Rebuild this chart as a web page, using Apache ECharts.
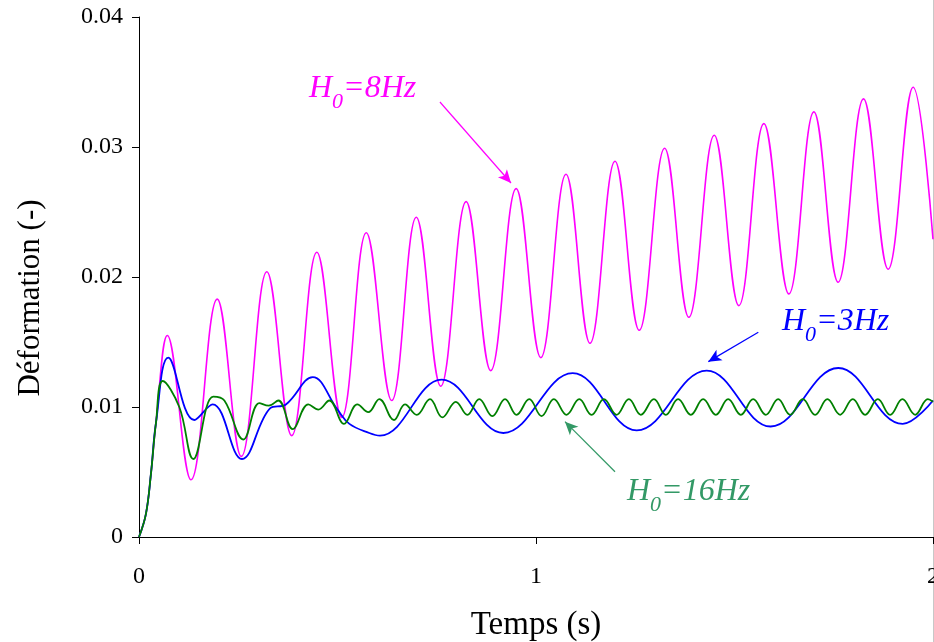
<!DOCTYPE html>
<html>
<head>
<meta charset="utf-8">
<script src="https://cdn.jsdelivr.net/npm/echarts@6/dist/echarts.min.js"></script>
<style>
html,body{margin:0;padding:0;background:#fff;}
#chart{width:934px;height:642px;}
</style>
</head>
<body>
<div id="chart"></div>
<script>
// ---- data ----
var xTicks = ['0', '1', '2'];
var yTicks = ['0', '0.01', '0.02', '0.03', '0.04'];

// H0 = 8 Hz (magenta)
var t8 = [0, 0.0176, 0.0302, 0.0428, 0.0713, 0.131, 0.197, 0.2577, 0.322, 0.3846, 0.448, 0.5106, 0.5725, 0.6365, 0.6985, 0.760, 0.824, 0.886, 0.950, 1.012, 1.0756, 1.136, 1.199, 1.260, 1.324, 1.385, 1.449, 1.511, 1.574, 1.637, 1.700, 1.761, 1.825, 1.887, 1.950, 2.0];
var v8 = [0, 0.0018, 0.0049, 0.0088, 0.0155, 0.0044, 0.0183, 0.0062, 0.0204, 0.0078, 0.0219, 0.0092, 0.0234, 0.0105, 0.0246, 0.0116, 0.0258, 0.0128, 0.0268, 0.0138, 0.0279, 0.0149, 0.0289, 0.0159, 0.0299, 0.0169, 0.0309, 0.0178, 0.0318, 0.0187, 0.0327, 0.0196, 0.0337, 0.0206, 0.0346, 0.0229];

// H0 = 3 Hz (blue)
var t3 = [0, 0.0176, 0.0302, 0.0428, 0.0738, 0.1393, 0.1856, 0.2594, 0.33, 0.37, 0.4375, 0.50, 0.53, 0.58, 0.607, 0.7625, 0.9177, 1.0924, 1.2536, 1.43, 1.591, 1.7615, 1.9237, 2.0];
var v3 = [0, 0.0018, 0.0049, 0.0088, 0.0138, 0.0090, 0.0102, 0.0060, 0.0099, 0.0102, 0.0123, 0.0098, 0.0087, 0.0080, 0.0078, 0.0121, 0.0080, 0.0126, 0.0082, 0.0128, 0.0085, 0.0130, 0.0087, 0.0105];

// H0 = 16 Hz (green)
var t16 = [0, 0.0176, 0.0302, 0.0428, 0.0596, 0.1015, 0.1368, 0.187, 0.215, 0.2628, 0.303, 0.3266, 0.351, 0.387, 0.4265, 0.4517, 0.4794, 0.5164, 0.55, 0.5776, 0.6053, 0.6423,
  0.670, 0.6995, 0.733, 0.764, 0.798, 0.827, 0.857, 0.890, 0.922, 0.951, 0.983, 1.014, 1.045, 1.077, 1.109, 1.140, 1.171, 1.203, 1.234, 1.264, 1.297, 1.327,
  1.358, 1.390, 1.421, 1.453, 1.484, 1.516, 1.547, 1.579, 1.610, 1.640, 1.672, 1.703, 1.734, 1.766, 1.798, 1.829, 1.861, 1.892, 1.923, 1.955, 1.987, 2.0];
var v16 = [0, 0.0018, 0.0049, 0.0088, 0.0120, 0.0100, 0.0060, 0.0108, 0.0105, 0.0075, 0.0103, 0.0101, 0.0105, 0.0083, 0.0102, 0.0098, 0.0105, 0.0087, 0.0102, 0.0096, 0.0106, 0.0090,
  0.0102, 0.0094, 0.0106, 0.0092, 0.0104, 0.0094, 0.0106, 0.0093, 0.0106, 0.0094, 0.0106, 0.0093, 0.0106, 0.0094, 0.0106, 0.0094, 0.0106, 0.0094, 0.0106, 0.0094, 0.0106, 0.0094,
  0.0106, 0.0094, 0.0106, 0.0094, 0.0106, 0.0094, 0.0106, 0.0094, 0.0106, 0.0094, 0.0106, 0.0094, 0.0106, 0.0094, 0.0106, 0.0094, 0.0106, 0.0094, 0.0106, 0.0094, 0.0106, 0.0104];

// annotation arrows [from, to] in data units
var arrow8 = [[0.758, 0.03346], [0.937, 0.02723]];
var arrow3 = [[1.560, 0.01575], [1.434, 0.01349]];
var arrow16 = [[1.199, 0.00502], [1.073, 0.00887]];

function zip(t, v) { return t.map(function (x, i) { return [x, v[i]]; }); }

var FONT = "'Liberation Serif', 'Times New Roman', serif";

function label(x, y, sub, rest, color) {
  return {
    type: 'text', x: x, y: y, silent: true,
    style: {
      text: '{a|H}{s|' + sub + '}{a|' + rest + '}',
      fill: color,
      align: 'left', verticalAlign: 'top',
      rich: {
        a: { fontFamily: FONT, fontStyle: 'italic', fontSize: 32, lineHeight: 48, fill: color },
        s: { fontFamily: FONT, fontStyle: 'italic', fontSize: 22, lineHeight: 22, verticalAlign: 'bottom', fill: color }
      }
    }
  };
}

function arrowLine(a, color) {
  return {
    silent: true, animation: false,
    symbol: ['none', 'arrow'], symbolSize: [9, 13],
    label: { show: false },
    lineStyle: { color: color, width: 1.2, type: 'solid' },
    emphasis: { disabled: true },
    data: [[{ coord: a[0] }, { coord: a[1] }]]
  };
}

var chart = echarts.init(document.getElementById('chart'), null, { renderer: 'canvas' });
chart.setOption({
  animation: false,
  backgroundColor: '#ffffff',
  grid: { left: 139, right: 1, top: 17, bottom: 105, containLabel: false, outerBoundsMode: 'none' },
  xAxis: {
    type: 'value', min: 0, max: 2, interval: 1,
    name: 'Temps (s)', nameLocation: 'middle', nameGap: 72,
    nameTextStyle: { fontFamily: FONT, fontSize: 33, color: '#000' },
    axisLine: { show: true, lineStyle: { color: '#000', width: 1 } },
    axisTick: { show: true, length: 7, lineStyle: { color: '#000' } },
    axisLabel: { margin: 28, fontFamily: FONT, fontSize: 24, color: '#000',
      formatter: function (v) { return xTicks[Math.round(v)]; } },
    splitLine: { show: false }
  },
  yAxis: {
    type: 'value', min: 0, max: 0.04, interval: 0.01,
    name: 'Déformation (-)', nameLocation: 'middle', nameGap: 93, nameRotate: 90,
    nameTextStyle: { fontFamily: FONT, fontSize: 31, color: '#000', padding: [0, 42, 0, 0] },
    axisLine: { show: true, lineStyle: { color: '#000', width: 1 } },
    axisTick: { show: true, length: 7, lineStyle: { color: '#000' } },
    axisLabel: { margin: 16, fontFamily: FONT, fontSize: 24, color: '#000',
      formatter: function (v) { return yTicks[Math.round(v * 100)]; } },
    splitLine: { show: false }
  },
  series: [
    { name: 'H0=8Hz', type: 'line', data: zip(t8, v8), smooth: 0.4, showSymbol: false,
      lineStyle: { color: '#FF00FF', width: 1.6 }, itemStyle: { color: '#FF00FF' },
      markLine: arrowLine(arrow8, '#FF00FF') },
    { name: 'H0=3Hz', type: 'line', data: zip(t3, v3), smooth: 0.4, showSymbol: false,
      lineStyle: { color: '#0000FF', width: 1.8 }, itemStyle: { color: '#0000FF' },
      markLine: arrowLine(arrow3, '#0000FF') },
    { name: 'H0=16Hz', type: 'line', data: zip(t16, v16), smooth: 0.4, showSymbol: false,
      lineStyle: { color: '#008000', width: 1.8 }, itemStyle: { color: '#008000' },
      markLine: arrowLine(arrow16, '#339966') }
  ],
  graphic: [
    label(309, 65, '0', '=8Hz', '#FF00FF'),
    label(782, 298, '0', '=3Hz', '#0000FF'),
    label(627, 468, '0', '=16Hz', '#339966'),
    { type: 'line', silent: true, shape: { x1: 933.5, y1: 0, x2: 933.5, y2: 642 },
      style: { stroke: '#c8c8c8', lineWidth: 1 } }
  ]
});
</script>
</body>
</html>
